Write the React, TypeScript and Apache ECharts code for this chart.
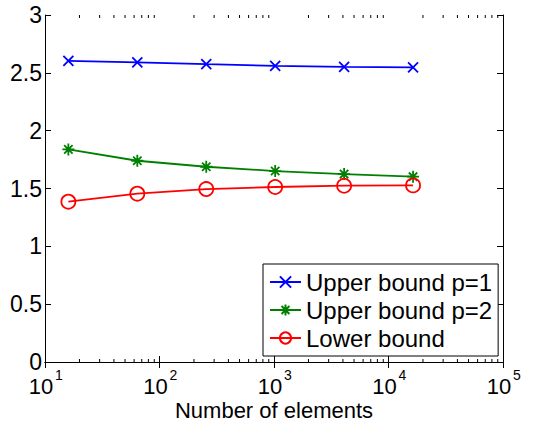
import React, { useEffect, useRef } from "react";
import * as echarts from "echarts";

const elementCounts = [16, 64, 256, 1024, 4096, 16384];
const upperBoundP1 = [2.604, 2.59, 2.575, 2.561, 2.552, 2.547];
const upperBoundP2 = [1.838, 1.74, 1.688, 1.651, 1.625, 1.602];
const lowerBound = [1.386, 1.455, 1.495, 1.513, 1.524, 1.527];
const seriesNames = ["Upper bound p=1", "Upper bound p=2", "Lower bound"];
const decades = [10, 100, 1000, 10000];
const minorMultipliers = [2, 3, 4, 5, 6, 7, 8, 9];

const FONT = "Liberation Sans";

export default function App() {
  const ref = useRef<HTMLDivElement>(null);
  useEffect(() => {
    if (!ref.current) return;
    const chart = echarts.init(ref.current, undefined, { renderer: "svg" });
    const minorTicks: number[][] = [];
    decades.forEach((d) => minorMultipliers.forEach((m) => minorTicks.push([d * m, 0])));
    const pts = (ys: number[]) => elementCounts.map((x, i) => [x, ys[i]]);
    const grid = { left: 45, right: 32, top: 15, bottom: 60, containLabel: false, outerBoundsMode: "none" };
    const xCommon = {
      type: "log",
      logBase: 10,
      min: 10,
      max: 100000,
      splitLine: { show: false },
      axisLine: { show: true, lineStyle: { color: "#000", width: 1 } },
      axisTick: { show: true, inside: true, length: 6, lineStyle: { color: "#000" } },
      minorTick: { show: false },
    };
    const yCommon = {
      type: "value",
      min: 0,
      max: 3,
      interval: 0.5,
      splitLine: { show: false },
      axisLine: { show: true, lineStyle: { color: "#000", width: 1 } },
      axisTick: { show: true, inside: true, length: 6, lineStyle: { color: "#000" } },
    };
    chart.setOption({
      animation: false,
      backgroundColor: "#fff",
      textStyle: { fontFamily: FONT },
      grid,
      xAxis: [
        {
          ...xCommon,
          position: "bottom",
          name: "Number of elements",
          nameLocation: "middle",
          nameGap: 40,
          nameMoveOverlap: false,
          nameTextStyle: { color: "#000", fontSize: 22, fontFamily: FONT, lineHeight: 16 },
          axisLabel: {
            color: "#000",
            fontSize: 22,
            lineHeight: 22,
            fontFamily: FONT,
            margin: 13,
            padding: [0, 8, 0, 0],
            formatter: () => "10",
          },
        },
        {
          ...xCommon,
          position: "top",
          axisLabel: { show: false },
        },
        {
          ...xCommon,
          position: "bottom",
          axisLine: { show: false },
          axisTick: { show: false },
          axisLabel: {
            color: "#000",
            fontSize: 14,
            lineHeight: 14,
            fontFamily: FONT,
            margin: 6,
            padding: [0, 0, 0, 28],
            formatter: (v: number) => String(Math.round(Math.log10(v))),
          },
        },
      ],
      yAxis: [
        {
          ...yCommon,
          position: "left",
          axisLabel: { color: "#000", fontSize: 23, fontFamily: FONT, margin: 3 },
        },
        {
          ...yCommon,
          position: "right",
          axisLabel: { show: false },
        },
      ],
      legend: {
        data: seriesNames,
        orient: "vertical",
        left: 263,
        top: 264,
        padding: [6, 6, 6, 6],
        itemGap: 4,
        itemWidth: 31,
        itemHeight: 14,
        backgroundColor: "#fff",
        borderColor: "#000",
        borderWidth: 1,
        borderRadius: 0,
        textStyle: { color: "#000", fontSize: 24, fontFamily: FONT },
      },
      series: [
        {
          type: "custom",
          silent: true,
          xAxisIndex: 0,
          yAxisIndex: 0,
          data: minorTicks,
          renderItem: (params: any, api: any) => {
            const v = api.value(0);
            const b = api.coord([v, 0]);
            const t = api.coord([v, 3]);
            return {
              type: "group",
              children: [
                { type: "line", shape: { x1: b[0], y1: b[1], x2: b[0], y2: b[1] - 3 }, style: { stroke: "#000", lineWidth: 1 } },
                { type: "line", shape: { x1: t[0], y1: t[1], x2: t[0], y2: t[1] + 3 }, style: { stroke: "#000", lineWidth: 1 } },
              ],
            };
          },
        },
        {
          name: seriesNames[0],
          type: "line",
          data: pts(upperBoundP1),
          symbol: "path://M0,0L10,10M10,0L0,10",
          symbolSize: 10,
          lineStyle: { color: "#0000ff", width: 1.8 },
          itemStyle: { color: "#0000ff", borderColor: "#0000ff", borderWidth: 1.8 },
        },
        {
          name: seriesNames[1],
          type: "line",
          data: pts(upperBoundP2),
          symbol: "path://M5,0L5,10M0,5L10,5M1.5,1.5L8.5,8.5M8.5,1.5L1.5,8.5",
          symbolSize: 12,
          lineStyle: { color: "#008000", width: 1.8 },
          itemStyle: { color: "#008000", borderColor: "#008000", borderWidth: 1.8 },
        },
        {
          name: seriesNames[2],
          type: "line",
          data: pts(lowerBound),
          symbol: "circle",
          symbolSize: 14,
          lineStyle: { color: "#ff0000", width: 1.8 },
          itemStyle: { color: "rgba(0,0,0,0)", borderColor: "#ff0000", borderWidth: 1.8 },
        },
      ],
    });
    return () => chart.dispose();
  }, []);
  return (
    <div
      ref={ref}
      style={{ position: "fixed", left: 0, top: 0, width: 535, height: 422 }}
    />
  );
}
